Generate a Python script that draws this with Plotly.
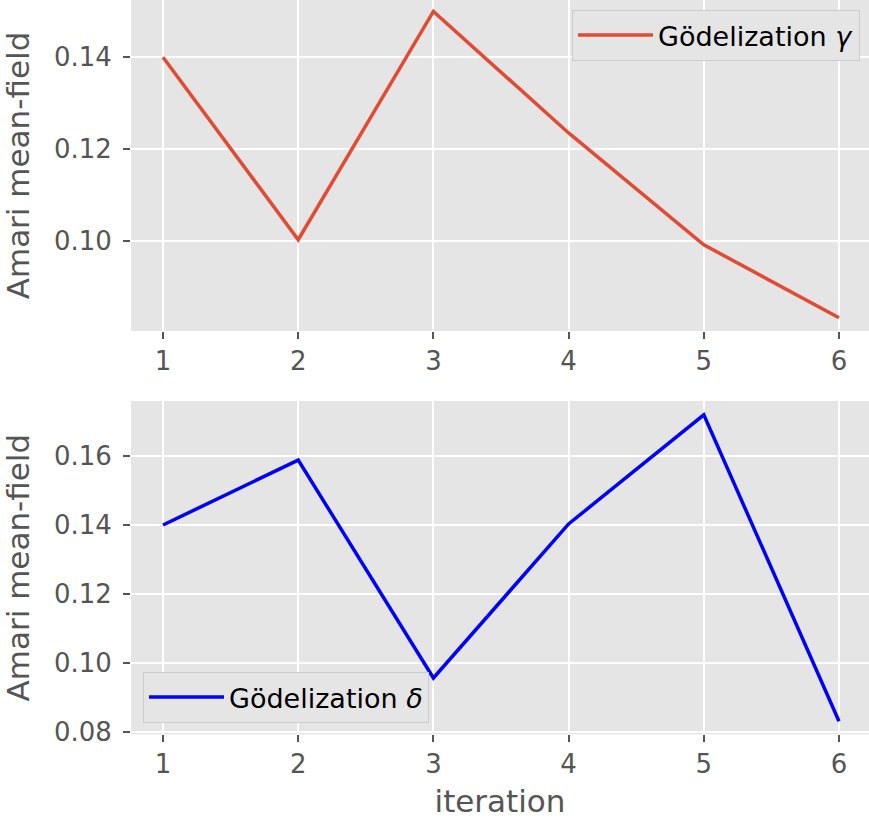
import plotly.graph_objects as go
from plotly.subplots import make_subplots

iterations = [1, 2, 3, 4, 5, 6]
gamma_values = [0.140, 0.1002, 0.1500, 0.1235, 0.0991, 0.0832]
delta_values = [0.140, 0.1588, 0.0957, 0.1403, 0.1719, 0.0832]
y_label = "Amari mean-field"
x_label = "iteration"

W, H = 869, 827
L = 131
FONT = "DejaVu Sans"
TXT = "#555555"

fig = make_subplots(rows=2, cols=1)

fig.add_trace(go.Scatter(x=iterations, y=gamma_values, mode="lines",
                         line=dict(color="#E24A33", width=3.5),
                         name="Gödelization <i>γ</i>", legend="legend", showlegend=True),
              row=1, col=1)
fig.add_trace(go.Scatter(x=iterations, y=delta_values, mode="lines",
                         line=dict(color="#0000FF", width=3.5),
                         name="Gödelization <i>δ</i>", legend="legend2", showlegend=True),
              row=2, col=1)

axis_common = dict(showgrid=True, gridcolor="white", gridwidth=2, zeroline=False,
                   ticks="outside", ticklen=7, tickwidth=1.5, tickcolor=TXT,
                   tickfont=dict(family=FONT, size=26, color=TXT),
                   showline=False, automargin=False)

fig.update_xaxes(**axis_common, range=[0.763, 6.222], tickvals=iterations,
                 ticktext=[str(i) for i in iterations])
fig.update_xaxes(title=dict(text=x_label, font=dict(family=FONT, size=31, color=TXT), standoff=11),
                 row=2, col=1)

fig.update_yaxes(**axis_common, ticklabelstandoff=6)
fig.update_yaxes(range=[0.0803, 0.1525], tickvals=[0.10, 0.12, 0.14],
                 ticktext=["0.10", "0.12", "0.14"],
                 title=dict(text=y_label, font=dict(family=FONT, size=31, color=TXT)),
                 row=1, col=1)
fig.update_yaxes(range=[0.0794, 0.1759], tickvals=[0.08, 0.10, 0.12, 0.14, 0.16],
                 ticktext=["0.08", "0.10", "0.12", "0.14", "0.16"],
                 title=dict(text=y_label, font=dict(family=FONT, size=31, color=TXT)),
                 row=2, col=1)

fig.update_layout(
    width=W, height=H,
    showlegend=True,
    margin=dict(l=L, r=0, t=0, b=0),
    paper_bgcolor="white", plot_bgcolor="#E5E5E5",
    xaxis=dict(domain=[0, 1]), xaxis2=dict(domain=[0, 1]),
    yaxis=dict(domain=[0.5998, 1.0]),
    yaxis2=dict(domain=[0.1121, 0.5151]),
    legend=dict(x=(860 - L) / (W - L), y=(H - 10) / H, xanchor="right", yanchor="top",
                bgcolor="#E5E5E5", bordercolor="#CCCCCC", borderwidth=1, itemwidth=75,
                font=dict(family=FONT, size=27, color="black")),
    legend2=dict(x=(143 - L) / (W - L), y=(H - 723) / H, xanchor="left", yanchor="bottom",
                 bgcolor="#E5E5E5", bordercolor="#CCCCCC", borderwidth=1, itemwidth=75,
                 font=dict(family=FONT, size=27, color="black")),
    font=dict(family=FONT),
)

fig.write_html("out.html", config={"displayModeBar": False},
               post_script="document.body.style.margin='0';document.body.style.overflow='hidden';")
